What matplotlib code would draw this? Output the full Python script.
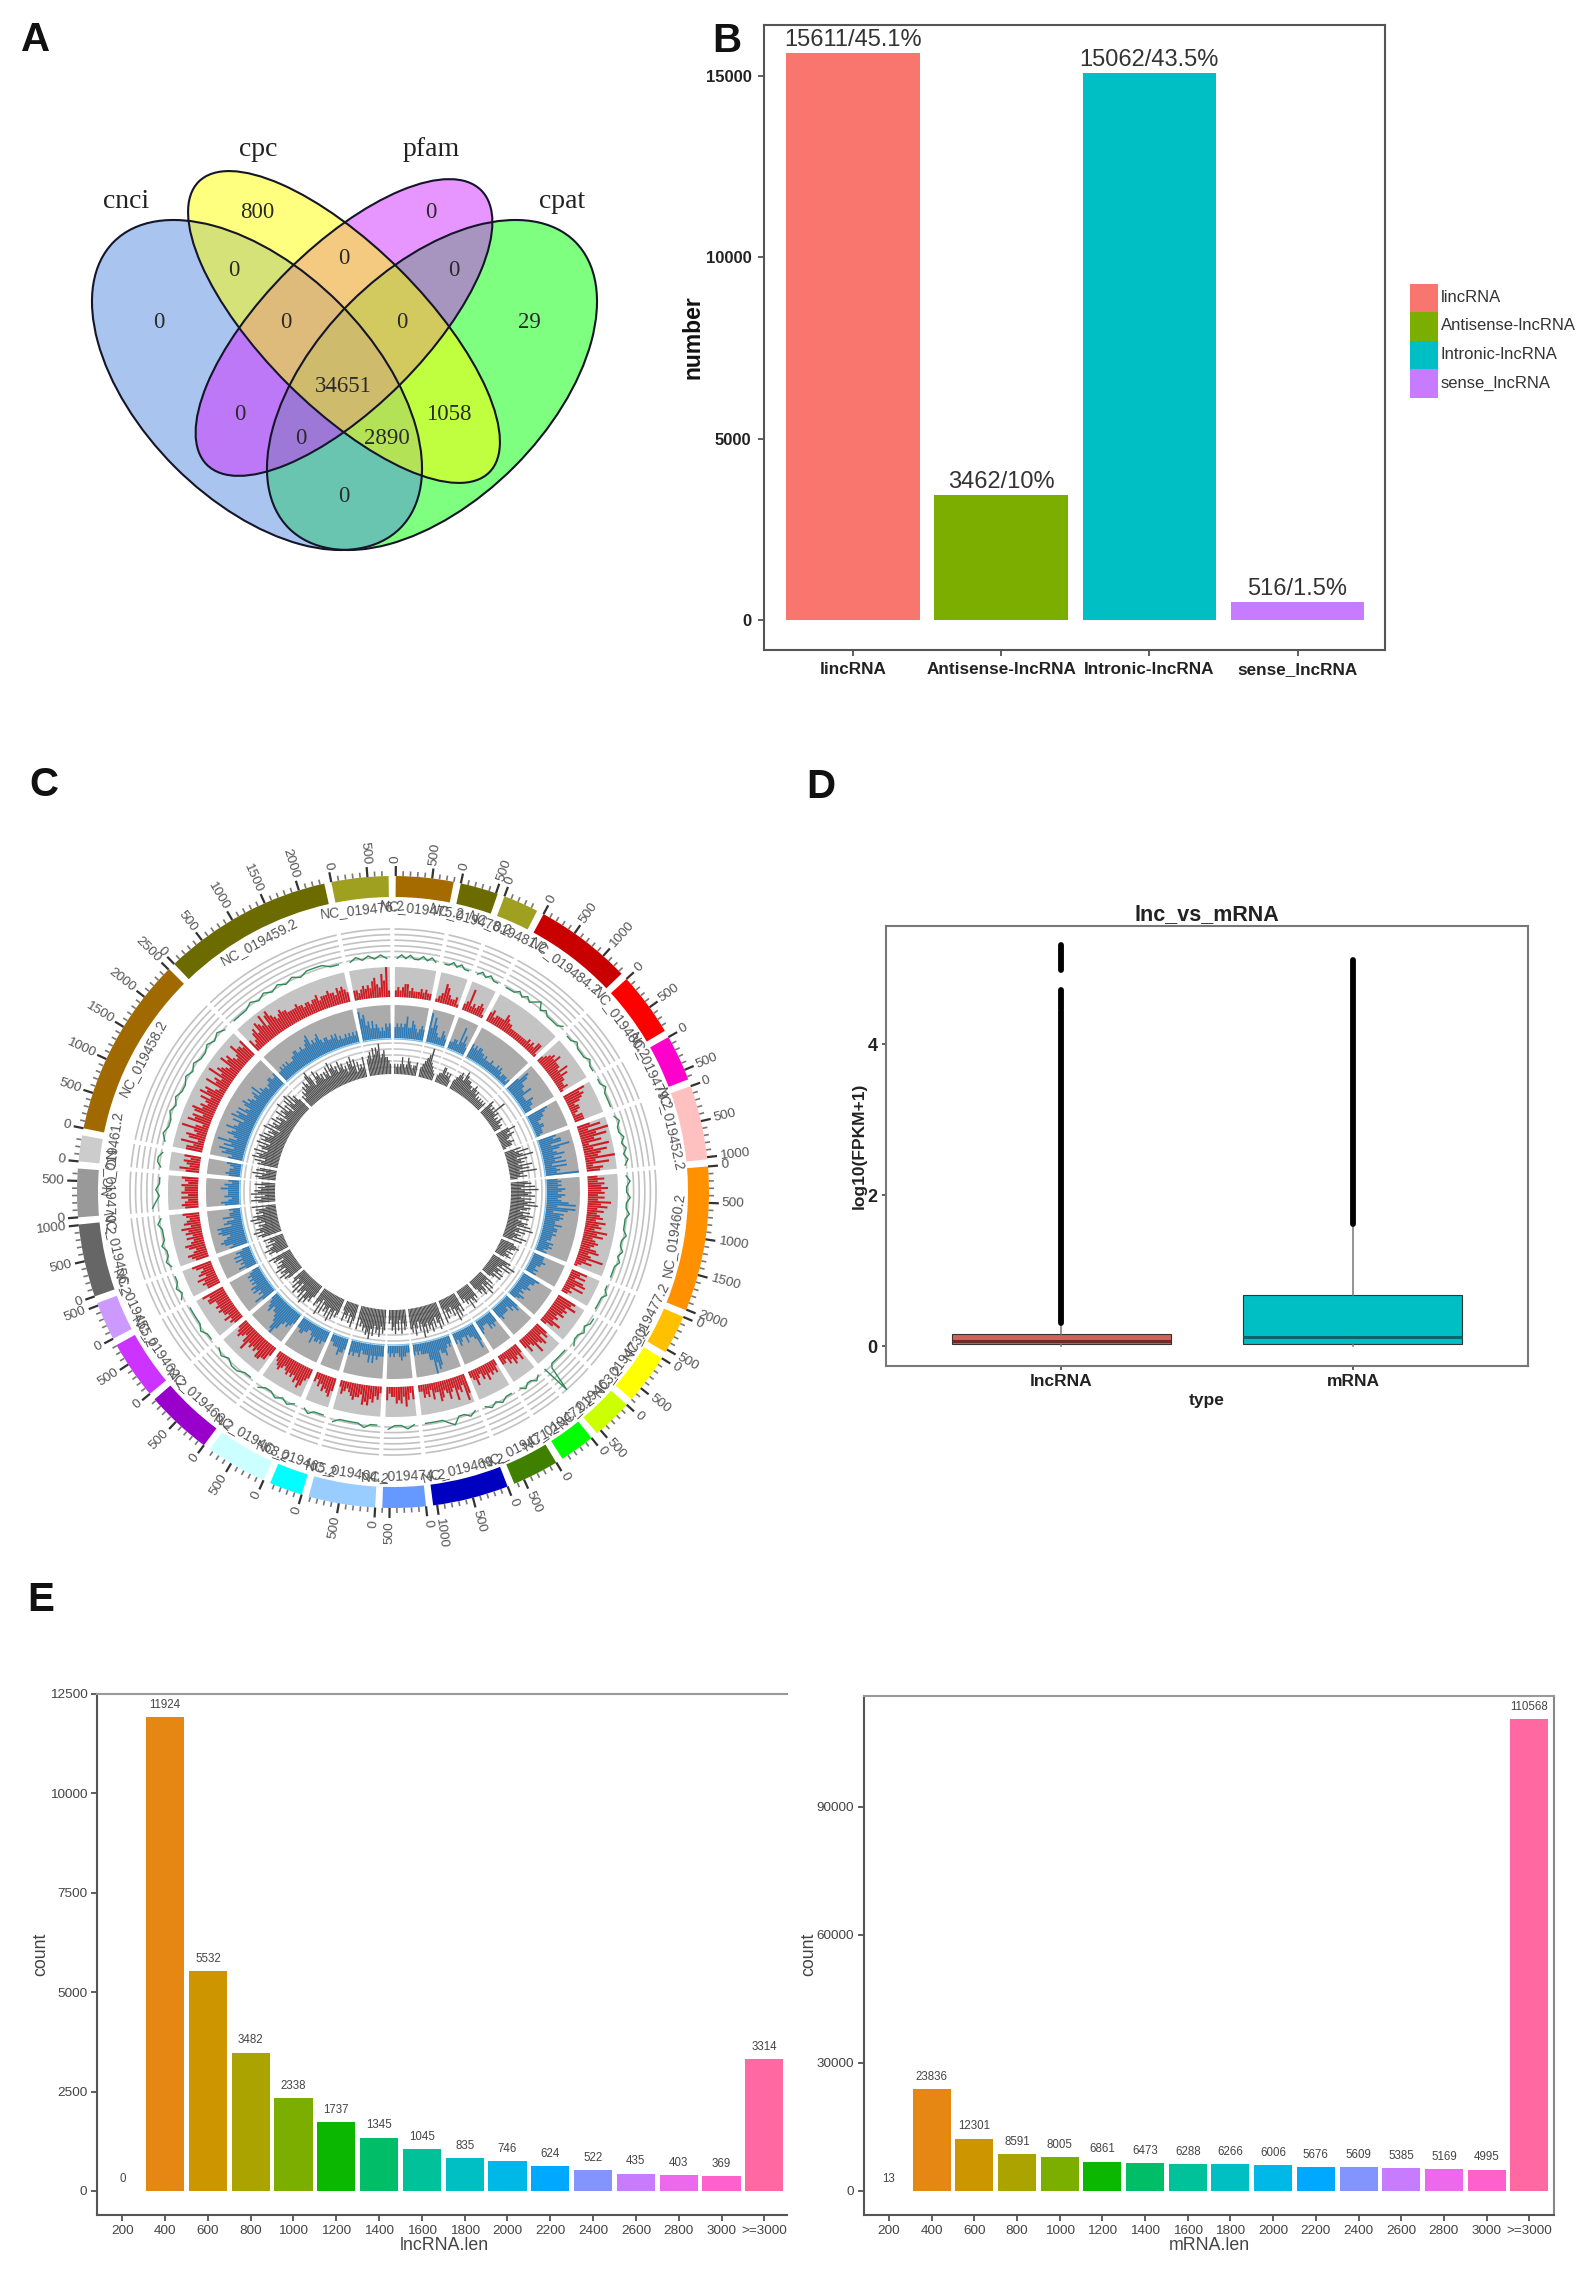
import numpy as np
import matplotlib
matplotlib.use("Agg")
import matplotlib.pyplot as plt
from matplotlib.patches import Ellipse, Rectangle

plt.rcParams['font.family'] = ['Liberation Sans', 'DejaVu Sans']

# ---------------------------------------------------------------- data
venn_sets = ['cnci', 'cpc', 'pfam', 'cpat']
venn_counts = [0, 800, 0, 29, 0, 0, 0, 0, 0, 34651, 0, 1058, 0, 2890, 0]

type_names = ['lincRNA', 'Antisense-lncRNA', 'Intronic-lncRNA', 'sense_lncRNA']
type_values = [15611, 3462, 15062, 516]
type_labels = ['15611/45.1%', '3462/10%', '15062/43.5%', '516/1.5%']
type_colors = ['#F8766D', '#7CAE00', '#00BFC4', '#C77CFF']

len_bins = ['200', '400', '600', '800', '1000', '1200', '1400', '1600', '1800',
            '2000', '2200', '2400', '2600', '2800', '3000', '>=3000']
lnc_counts = [0, 11924, 5532, 3482, 2338, 1737, 1345, 1045, 835, 746, 624, 522, 435, 403, 369, 3314]
mrna_counts = [13, 23836, 12301, 8591, 8005, 6861, 6473, 6288, 6266, 6006, 5676, 5609, 5385, 5169, 4995, 110568]
len_colors = ['#F8766D', '#E68613', '#CD9600', '#ABA300', '#7CAE00', '#0CB702', '#00BE67', '#00C19A',
              '#00BFC4', '#00B8E7', '#00A9FF', '#8494FF', '#C77CFF', '#ED68ED', '#FF61CC', '#FF68A1']

box_types = ['lncRNA', 'mRNA']
box_q1 = [0.02, 0.03]
box_med = [0.07, 0.115]
box_q3 = [0.155, 0.68]
box_whislo = [0.0, 0.0]
box_whishi = [0.30, 1.62]
box_fill = ['#D4605C', '#00BFC4']
box_medcol = ['#6E2A2A', '#0B6469']
lnc_outlier_ranges = [(0.30, 4.44), (4.47, 4.72), (4.98, 5.32)]
mrna_outlier_ranges = [(1.62, 5.11)]

chrom_names = ['NC_019475.2', 'NC_019478.2', 'NC_019481.2', 'NC_019484.2', 'NC_019480.2', 'NC_019479.2',
               'NC_019452.2', 'NC_019460.2', 'NC_019477.2', 'NC_019473.2', 'NC_019463.2', 'NC_019472.2',
               'NC_019471.2', 'NC_019469.2', 'NC_019474.2', 'NC_019464.2', 'NC_019465.2', 'NC_019468.2',
               'NC_019466.2', 'NC_019462.2', 'NC_019455.2', 'NC_019456.2', 'NC_019470.2', 'NC_019461.2',
               'NC_019458.2', 'NC_019459.2', 'NC_019476.2']
chrom_len = [800, 525, 490, 1350, 885, 640, 1030, 2010, 540, 700, 565, 490, 645, 1055, 600, 925, 460, 850,
             925, 810, 535, 1010, 670, 360, 2510, 2360, 790]
chrom_col = ['#A56A00', '#6B6B00', '#A0A020', '#C80000', '#FF0000', '#FF00CC', '#FFC0C0', '#FF9000', '#FFC000',
             '#FFFF00', '#CCFF00', '#00FF00', '#408000', '#0000C0', '#6699FF', '#99CCFF', '#00FFFF', '#CCFFFF',
             '#9900CC', '#CC33FF', '#CC99FF', '#666666', '#999999', '#CCCCCC', '#A06A00', '#6B6B00', '#A0A020']

# per-sector heights read by eye, one digit per bin (9 = full track height)
red_track = ['2323442322232322', '1236532231', '2372323431', '342333354332222222223232441',
             '2345464443635332231', '7565423321333', '47395846283754937254',
             '35354645353746353453645374634543563483521', '53525636232', '6574545343642', '45365474353',
             '3534534233', '2434353423532', '6835473464356335243422', '424635453324', '243546563445432342',
             '465453423', '34675645454345432', '35566454547534543', '3435344545446657', '44546354356',
             '45643564353546354345', '4543535445345', '4634535',
             '55372563484275636745346375632745384654375643475546',
             '42356476584786545655444454434434453444544354543', '3323434356437592']
blue_track = ['3434346335432343', '8475322432', '2233273532', '434344332322232223232122212',
              '4764433522243322', '6544322332221', '54663853463536263439',
              '3434354354346838625454335344343332434323', '33343322323', '5443343232432', '45342333343',
              '3343422234', '5743324223423', '2323544378695533332323', '223343223232', '333435353332433434',
              '344533322', '33434435322334433', '34545798654435432', '4634354534343432', '35343535342',
              '54676546767354253323', '4532433353423', '3433234',
              '43657364853465475446375636435645434536343323344334',
              '33434343334455445445674545643443343423223232323', '8674535343232434']
gray_track = ['3232353235432334', '3456795432', '2335534342', '345654765554434543423232323',
              '5434373423243232', '4643543234331', '53745836453746384352',
              '5647384657364758465364756346573846354736', '45654353453', '6584735463643', '53647356453',
              '5465474534', '6475846354637', '7586475867586957468576', '564736475634', '675867586978675647',
              '574635463', '56475847564738456', '46576847563746354', '5647564756453657', '46575463546',
              '67586756475867465637', '5746375645364', '5647365',
              '65748675846758476857465837564746537465846375847564',
              '43546576589745867564657486756475645365746253436', '5675868795675543']
green_track = ['1212112121', '1121211', '121211', '1112121231211112', '112111211', '1121111', '1211212121',
               '12112112111211212111', '1121111', '2212112', '1111111291', '121121', '112121', '1211321111',
               '12112', '11211112', '11121', '1212112', '1122121', '1121111', '21211', '1211211121', '321211',
               '1221', '121121211212112121', '1112121212122211', '1212121']

# ---------------------------------------------------------------- layout helpers
W, H = 1595, 2278
fig = plt.figure(figsize=(W / 100, H / 100), dpi=100, facecolor='white')


def axes_px(l, t, r, b, **kw):
    return fig.add_axes([l / W, 1 - b / H, (r - l) / W, (b - t) / H], **kw)


def text_px(x, y, s, **kw):
    kw.setdefault('ha', 'center')
    kw.setdefault('va', 'center')
    return fig.text(x / W, 1 - y / H, s, **kw)


for letter, (lx, ly) in zip('ABCDE', [(36, 40), (727, 41), (44, 785), (821, 787), (41, 1600)]):
    text_px(lx, ly, letter, fontsize=29, fontweight='bold', color='#111111')

# ---------------------------------------------------------------- A: Venn
ax = axes_px(60, 120, 640, 600)
ax.set_xlim(60, 640)
ax.set_ylim(600, 120)
ax.axis('off')
ell = {
    'cpat': dict(xy=(432, 385), width=405, height=232, angle=-45, color='#00FF00'),
    'cnci': dict(xy=(257, 385), width=405, height=232, angle=45, color='#558DE1'),
    'pfam': dict(xy=(344, 327.5), width=388, height=160, angle=-45, color='#D12DFF'),
    'cpc': dict(xy=(344, 327), width=411, height=160, angle=45, color='#FFFF00'),
}
for name in ['cpat', 'cnci', 'pfam', 'cpc']:
    e = ell[name]
    ax.add_patch(Ellipse(e['xy'], e['width'], e['height'], angle=e['angle'],
                         facecolor=e['color'], edgecolor='none', alpha=0.5))
for name in ['cpat', 'cnci', 'pfam', 'cpc']:
    e = ell[name]
    ax.add_patch(Ellipse(e['xy'], e['width'], e['height'], angle=e['angle'],
                         facecolor='none', edgecolor='#15152A', lw=1.5))
for s, (x, y) in zip(venn_sets, [(126, 201), (258, 150), (431, 150), (562, 201)]):
    ax.text(x, y, s, family='Liberation Serif', fontsize=20, ha='center', va='center', color='#222222')
venn_pos = [(159, 323), (257, 212), (431, 212), (529, 323), (234, 270), (344, 259), (454, 270), (286, 323),
            (402, 323), (343, 386), (240, 415), (449, 415), (301, 438), (387, 438), (344, 496)]
for c, (x, y) in zip(venn_counts, venn_pos):
    ax.text(x, y, str(c), family='Liberation Serif', fontsize=16.5, ha='center', va='center', color='#2A2A2A')

# ---------------------------------------------------------------- B: class bars
ax = axes_px(764, 25, 1385, 650)
xb = np.arange(1, 5)
ax.bar(xb, type_values, width=0.9, color=type_colors)
ax.set_xlim(0.4, 4.59)
ax.set_ylim(-812, 16390)
ax.set_xticks(xb, type_names, fontweight='bold', fontsize=12.3, color='#222222')
ax.set_yticks([0, 5000, 10000, 15000], ['0', '5000', '10000', '15000'], fontweight='bold', fontsize=12, color='#222222')
ax.tick_params(axis='both', length=4, width=1.2, color='#444444', pad=5)
for sp in ax.spines.values():
    sp.set_color('#555555')
    sp.set_linewidth(1.5)
for x, v, s in zip(xb, type_values, type_labels):
    ax.text(x, v + 60, s, ha='center', va='bottom', fontsize=17, color='#333333')
text_px(693, 337, 'number', rotation=90, fontsize=16.5, fontweight='bold', color='#111111')
for i, (n, c) in enumerate(zip(type_names, type_colors)):
    fig.add_artist(Rectangle((1410 / W, 1 - (283.5 + 28.5 * (i + 1)) / H), 27.5 / W, 28.5 / H,
                             transform=fig.transFigure, facecolor=c, edgecolor='none'))
    text_px(1441, 297.5 + 28.5 * i, n, ha='left', fontsize=12, color='#333333')

# ---------------------------------------------------------------- C: circos
cx, cy, rmax = 393, 1192, 370
ax = axes_px(cx - rmax, cy - rmax, cx + rmax, cy + rmax, projection='polar')
ax.set_theta_zero_location('N')
ax.set_theta_direction(-1)
ax.set_rlim(0, rmax)
ax.axis('off')

gap = 1.3
scale = (360 - gap * len(chrom_len)) / sum(chrom_len)
IDEO_IN, IDEO_OUT = 295, 316
T1 = (230, 263)
T2 = (195, 225)
T3 = (154, 187)
T4 = (118, 149)
start = 0.5
for i, length in enumerate(chrom_len):
    span = length * scale
    t0 = np.deg2rad(start)
    w = np.deg2rad(span)
    mid = t0 + w / 2
    thetas = np.linspace(t0, t0 + w, 40)
    # ideogram
    ax.bar(mid, IDEO_OUT - IDEO_IN, width=w, bottom=IDEO_IN, color=chrom_col[i], linewidth=0)
    # ticks and tick labels
    kb = np.arange(0, length + 1, 100)
    minor = kb[kb % 500 != 0]
    major = kb[kb % 500 == 0]
    ax.vlines(t0 + np.deg2rad(minor * scale), IDEO_OUT, IDEO_OUT + 5, color='#777777', lw=1.2)
    ax.vlines(t0 + np.deg2rad(major * scale), IDEO_OUT, IDEO_OUT + 10, color='#333333', lw=1.6)
    for m in major:
        deg = start + m * scale
        if deg < 180:
            rot, ha = 90 - deg, 'left'
        else:
            rot, ha = 270 - deg, 'right'
        ax.text(np.deg2rad(deg), IDEO_OUT + 13, str(m), rotation=rot, rotation_mode='anchor', ha=ha, va='center',
                fontsize=9.7, color='#555555')
    # sector name
    mdeg = start + span / 2
    nrot = 180 - mdeg if 90 < mdeg < 270 else -mdeg
    ax.text(mid, 284, chrom_names[i], rotation=nrot, rotation_mode='anchor', ha='center', va='center',
            fontsize=10, color='#555555')
    # backgrounds
    ax.bar(mid, T2[1] - T2[0], width=w, bottom=T2[0], color='#C4C4C4', linewidth=0, zorder=1)
    ax.bar(mid, T3[1] - T3[0], width=w, bottom=T3[0], color='#ABABAB', linewidth=0, zorder=1)
    for r in np.linspace(T1[0] + 5, T1[1], 6):
        ax.plot(thetas, np.full_like(thetas, r), color='#C2C2C2', lw=1.2, zorder=1)
    for r in np.linspace(T4[0] + 7, T4[1], 5):
        ax.plot(thetas, np.full_like(thetas, r), color='#C8C8C8', lw=1.2, zorder=1)
    ax.plot(thetas, np.full_like(thetas, T3[0] - 1), color='#7FC4EE', lw=1.0, zorder=2)
    # data tracks
    for strs, (r0, r1), col in [(red_track, T2, '#CF1B23'), (blue_track, T3, '#2B7BBA'), (gray_track, T4, '#4D4D4D')]:
        vals = np.array([int(d) for d in strs[i]], dtype=float)
        bw = w / len(vals)
        th = t0 + bw * (np.arange(len(vals)) + 0.5)
        ax.bar(th, vals / 9 * (r1 - r0), width=bw * 0.85, bottom=r0, color=col, linewidth=0, zorder=3)
    vals = np.array([int(d) for d in green_track[i]], dtype=float)
    th = t0 + (w / len(vals)) * (np.arange(len(vals)) + 0.5)
    ax.plot(th, T1[0] + vals / 9 * (T1[1] - T1[0]), color='#2E8B57', lw=1.0, zorder=3)
    start += span + gap

# ---------------------------------------------------------------- D: boxplot
ax = axes_px(886, 926, 1528, 1366)
stats = [dict(med=m, q1=a, q3=b, whislo=l, whishi=h) for m, a, b, l, h in zip(box_med, box_q1, box_q3, box_whislo, box_whishi)]
bp = ax.bxp(stats, positions=[1, 2], widths=0.75, showfliers=False, patch_artist=True, showcaps=False,
            boxprops=dict(edgecolor='#333333', linewidth=0.8),
            whiskerprops=dict(color='#777777', linewidth=1.1),
            medianprops=dict(linewidth=2.2))
for b, m, fc, mc in zip(bp['boxes'], bp['medians'], box_fill, box_medcol):
    b.set_facecolor(fc)
    m.set_color(mc)
for pos, ranges in zip([1, 2], [lnc_outlier_ranges, mrna_outlier_ranges]):
    for lo, hi in ranges:
        ax.vlines(pos, lo, hi, color='black', lw=4.2, capstyle='round', zorder=4)
ax.set_xlim(0.4, 2.6)
ax.set_ylim(-0.265, 5.567)
ax.set_xticks([1, 2], box_types, fontweight='bold', fontsize=12.5, color='#222222')
ax.set_yticks([0, 2, 4], ['0', '2', '4'], fontweight='bold', fontsize=13, color='#222222')
ax.tick_params(axis='both', length=3, width=1.2, color='#444444', pad=3)
for sp in ax.spines.values():
    sp.set_color('#777777')
    sp.set_linewidth(1.5)
text_px(1207, 915, 'lnc_vs_mRNA', fontsize=15.5, fontweight='bold', color='#222222')
text_px(1207, 1400, 'type', fontsize=12.5, fontweight='bold', color='#222222')
text_px(859, 1146, 'log10(FPKM+1)', rotation=90, fontsize=12.5, fontweight='bold', color='#222222')

# ---------------------------------------------------------------- E: length histograms
xe = np.arange(len(len_bins))


def len_panel(ax, counts, xl, yl, yticks, name, xname_px, yname_px, box):
    ax.bar(xe, counts, width=0.89, color=len_colors, linewidth=0)
    ax.set_xlim(*xl)
    ax.set_ylim(*yl)
    ax.set_xticks(xe, len_bins, fontsize=9.7, color='#444444')
    ax.set_yticks(yticks, [str(t) for t in yticks], fontsize=9.7, color='#444444')
    ax.tick_params(axis='both', length=4, width=1.2, color='#444444', pad=3)
    top = yl[1]
    for x, v in zip(xe, counts):
        ax.text(x, v + 0.012 * (top - yl[0]), str(v), ha='center', va='bottom', fontsize=8.3, color='#444444')
    ax.spines['left'].set_color('#555555')
    ax.spines['bottom'].set_color('#555555')
    ax.spines['top'].set_color('#999999')
    ax.spines['right'].set_color('#888888')
    ax.spines['right'].set_visible(box)
    for sp in ax.spines.values():
        sp.set_linewidth(1.5)
    text_px(xname_px, 2246, name, fontsize=12.8, color='#444444')
    text_px(yname_px, 1954, 'count', rotation=90, fontsize=12.8, color='#444444')


len_panel(axes_px(97, 1694, 787, 2215), lnc_counts, (-0.59, 15.53), (-604, 12500),
          [0, 2500, 5000, 7500, 10000, 12500], 'lncRNA.len', 444, 41, False)
len_panel(axes_px(864, 1696, 1554, 2215), mrna_counts, (-0.586, 15.58), (-5625, 116000),
          [0, 30000, 60000, 90000], 'mRNA.len', 1209, 809, True)

fig.savefig('out.png', dpi=100, facecolor='white')
